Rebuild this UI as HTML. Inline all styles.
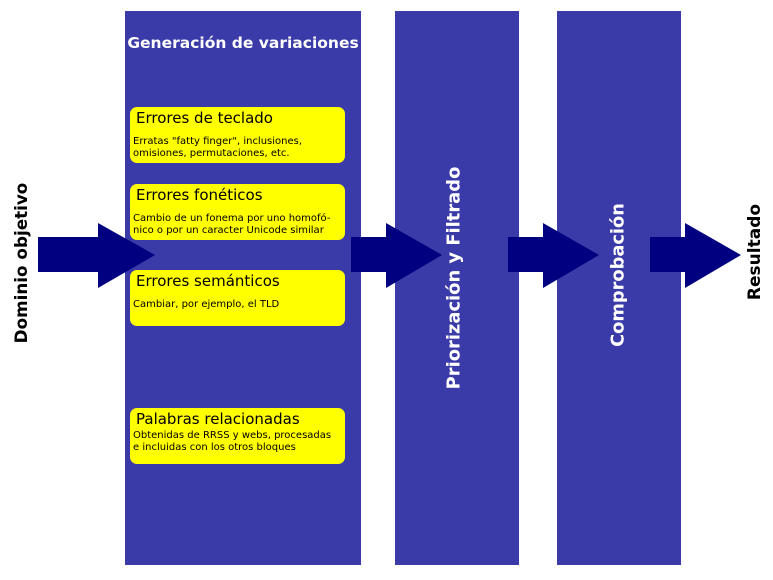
<!DOCTYPE html>
<html><head><meta charset="utf-8"><style>
body{margin:0;width:773px;height:580px;background:#fff;position:relative;overflow:hidden;font-family:"DejaVu Sans","Liberation Sans",sans-serif}
.col{position:absolute;top:11px;height:554px;background:#3a3aa8}
.box{position:absolute;left:130px;width:215px;height:56px;background:#ffff00;border-radius:7px;color:#000}
.box .h{position:absolute;left:6px;top:2px;font-size:15px;white-space:nowrap}
.box p{position:absolute;left:3px;margin:0;font-size:10px;line-height:12px;white-space:nowrap}
.v{position:absolute;white-space:nowrap;font-weight:bold;transform:translate(-50%,-50%) rotate(-90deg);}
</style></head><body>
<div class="col" style="left:125px;width:236px"></div>
<div class="col" style="left:395px;width:124px"></div>
<div class="col" style="left:557px;width:124px"></div>
<svg width="773" height="580" style="position:absolute;left:0;top:0">
<g fill="#000080">
<polygon points="38,237 98,237 98,223 155,255 98,288 98,272 38,272"/>
<polygon points="351,237 386,237 386,223 442,255 386,288 386,272 351,272"/>
<polygon points="508,237 543,237 543,223 599,255 543,288 543,272 508,272"/>
<polygon points="650,237 685,237 685,223 741,255 685,288 685,272 650,272"/>
</g></svg>
<div style="position:absolute;left:125px;width:236px;top:34px;text-align:center;color:#fff;font-weight:bold;font-size:15.5px">Generación de variaciones</div>
<div class="box" style="top:107px"><div class="h">Errores de teclado</div><p style="top:29px">Erratas "fatty finger", inclusiones,<br>omisiones, permutaciones, etc.</p></div>
<div class="box" style="top:184px"><div class="h">Errores fonéticos</div><p style="top:29px">Cambio de un fonema por uno homofó-<br>nico o por un caracter Unicode similar</p></div>
<div class="box" style="top:270px"><div class="h">Errores semánticos</div><p style="top:29px">Cambiar, por ejemplo, el TLD</p></div>
<div class="box" style="top:408px"><div class="h">Palabras relacionadas</div><p style="top:22px">Obtenidas de RRSS y webs, procesadas<br>e incluidas con los otros bloques</p></div>
<div class="v" style="left:21px;top:263px;color:#000;font-size:16.8px">Dominio objetivo</div>
<div class="v" style="left:454px;top:278px;color:#fff;font-size:17.9px">Priorización y Filtrado</div>
<div class="v" style="left:618px;top:275px;color:#fff;font-size:17.8px">Comprobación</div>
<div class="v" style="left:755px;top:252px;color:#000;font-size:17px">Resultado</div>
</body></html>
